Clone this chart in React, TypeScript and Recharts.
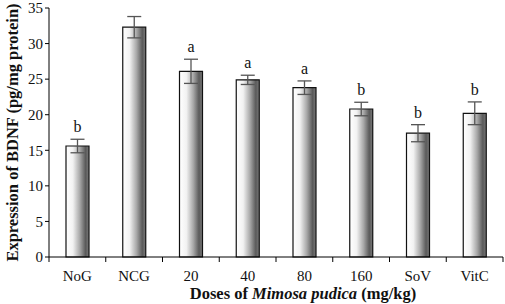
import { BarChart, Bar, XAxis, YAxis, ErrorBar, LabelList } from 'recharts';

document.body.style.margin = '0';

const groups = ['NoG', 'NCG', '20', '40', '80', '160', 'SoV', 'VitC'];
const bdnf = [15.6, 32.3, 26.1, 24.9, 23.8, 20.8, 17.4, 20.2];
const errors = [0.95, 1.5, 1.7, 0.65, 0.95, 0.95, 1.2, 1.6];
const letters = ['b', '', 'a', 'a', 'a', 'b', 'b', 'b'];
const yTicks = [0, 5, 10, 15, 20, 25, 30, 35];

const data = groups.map((g, i) => ({
  group: g,
  value: bdnf[i],
  err: errors[i],
  letter: letters[i],
}));

const FONT = '"Times New Roman", "Liberation Serif", serif';
const PLOT_WIDTH = 454;
const BAND = PLOT_WIDTH / groups.length;

function GroupTick({ x, y, payload, index }: any) {
  return (
    <g>
      <line x1={x - BAND / 2} y1={y - 8} x2={x - BAND / 2} y2={y - 3} stroke="#000" />
      {index === groups.length - 1 && (
        <line x1={x + BAND / 2} y1={y - 8} x2={x + BAND / 2} y2={y - 3} stroke="#000" />
      )}
      <text x={x} y={y + 16} textAnchor="middle" style={{ fontFamily: FONT }} fontSize={15} fill="#111">
        {payload.value}
      </text>
    </g>
  );
}

function LetterLabel({ x, y, width, height, value, index }: any) {
  if (!value) return null;
  const v = bdnf[index];
  const pxPerUnit = height / v;
  const top = y - errors[index] * pxPerUnit;
  return (
    <text x={x + width / 2} y={top - 7} textAnchor="middle" style={{ fontFamily: FONT }} fontSize={16} fill="#111">
      {value}
    </text>
  );
}

export default function App() {
  return (
    <div style={{ fontFamily: FONT }}>
      <BarChart
        width={505}
        height={304}
        data={data}
        margin={{ top: 8, right: 2, bottom: 0, left: 0 }}
        barSize={23}
      >
        <defs>
          <linearGradient id="barShade" x1="0" y1="0" x2="1" y2="0">
            <stop offset="0%" stopColor="#ffffff" />
            <stop offset="30%" stopColor="#f2f2f2" />
            <stop offset="60%" stopColor="#a8a8a8" />
            <stop offset="85%" stopColor="#5a5a5a" />
            <stop offset="100%" stopColor="#7a7a7a" />
          </linearGradient>
        </defs>
        <XAxis
          dataKey="group"
          height={47}
          axisLine={{ stroke: '#000' }}
          tickLine={false}
          tick={<GroupTick />}
          interval={0}
          label={{
            value: 'Doses of Mimosa pudica (mg/kg)',
            position: 'insideBottom',
            content: () => (
              <text x={303} y={299} textAnchor="middle" style={{ fontFamily: FONT }} fontSize={16.5} fontWeight="bold" fill="#111">
                Doses of <tspan fontStyle="italic">Mimosa pudica</tspan> (mg/kg)
              </text>
            ),
          }}
        />
        <YAxis
          width={49}
          domain={[0, 35]}
          ticks={yTicks}
          interval={0}
          axisLine={{ stroke: '#000' }}
          tickLine={{ stroke: '#000' }}
          tickSize={4}
          tick={{ fontSize: 15, fill: '#111', style: { fontFamily: FONT } }}
          label={{
            value: 'Expression of BDNF (pg/mg protein)',
            angle: -90,
            position: 'insideLeft',
            offset: 12,
            style: { fontFamily: FONT, fontSize: 16.5, fontWeight: 'bold', fill: '#111', textAnchor: 'middle' },
          }}
        />
        <Bar dataKey="value" fill="url(#barShade)" stroke="#111" strokeWidth={1.2} isAnimationActive={false}>
          <ErrorBar dataKey="err" width={7} stroke="#555" strokeWidth={1.3} />
          <LabelList dataKey="letter" content={<LetterLabel />} />
        </Bar>
      </BarChart>
    </div>
  );
}
